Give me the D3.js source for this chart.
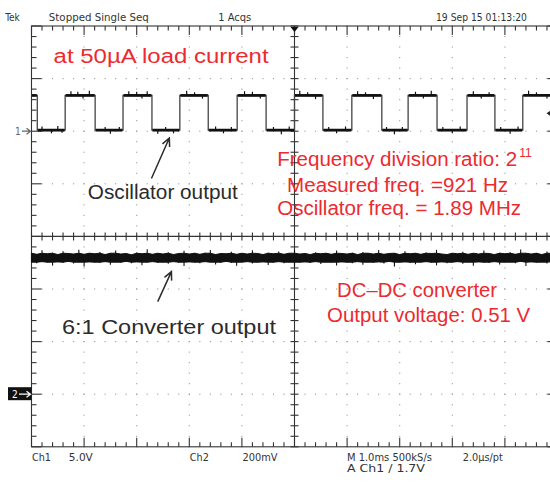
<!DOCTYPE html>
<html>
<head>
<meta charset="utf-8">
<script src="https://cdn.jsdelivr.net/npm/d3@7/dist/d3.min.js"></script>
<style>
    body { margin: 0; background: #fff; }
    svg { display: block; }
    .lab { font-family: "Liberation Sans Narrow", "DejaVu Sans Condensed", "Liberation Sans", sans-serif; font-size: 10px; fill: #333; }
    .red { font-family: "Liberation Sans", Arial, sans-serif; font-size: 20px; fill: #ec2a2f; }
    .blk { font-family: "Liberation Sans", Arial, sans-serif; font-size: 20px; fill: #2b2b2b; }
</style>
</head>
<body>
<script>

// Ch1: oscillator output, 5 V/div, edge times in ms (trace starts high)
var ch1Edges = [-4.89, -4.36, -3.79, -3.26, -2.71, -2.18, -1.64, -1.09, -0.54, 0.0,
                0.54, 1.09, 1.66, 2.16, 2.71, 3.28, 3.81, 4.34];
var ch1High = 3.4, ch1Low = 0.1;
// small glitches riding on the flat parts: [ms, volts]
var ch1Spikes = [[-4.8,0.35],[-4.62,-0.3],[-4.5,0.4],[-4.42,-0.25],[-4.25,0.4],[-4.12,0.35],[-4.02,-0.3],[-3.9,0.45],
                 [-3.6,0.3],[-3.5,-0.35],[-3.33,0.3],[-3.15,0.4],[-3.0,0.35],[-2.9,-0.3],[-2.8,0.4],[-2.6,-0.35],
                 [-2.45,0.3],[-2.3,-0.3],[-2.05,0.45],[-1.9,0.3],[-1.75,-0.3],[-1.5,0.35],[-1.35,-0.3],[-1.2,0.3],
                 [-0.95,0.4],[-0.8,0.35],[-0.65,-0.3],[-0.4,0.3],[-0.25,-0.4],[-0.1,0.35],[0.1,0.45],[0.25,0.3],
                 [0.4,-0.35],[0.65,0.3],[0.8,-0.3],[0.97,0.35],[1.2,0.4],[1.35,0.3],[1.5,-0.35],[1.75,0.3],
                 [1.9,-0.4],[2.05,0.3],[2.3,0.35],[2.45,-0.3],[2.6,0.45],[2.82,0.3],[3.0,-0.3],[3.15,0.35],
                 [3.4,0.4],[3.55,-0.3],[3.7,0.3],[3.92,0.3],[4.1,-0.35],[4.25,0.35],[4.45,0.45],[4.6,0.3],
                 [4.8,-0.3],[4.92,0.4]];

// Ch2: converter output, 200 mV/div, peak envelope in mV, one column every 0.1 ms from -5 ms
var ch2Step = 0.1;
var ch2Hi = [536,532,547,534,538,531,544,535,533,549,532,537,534,541,531,536,546,533,535,530,
             539,534,551,532,536,533,540,531,535,545,533,537,532,538,548,531,535,534,542,532,
             536,533,547,535,531,538,534,543,532,536,550,533,535,531,539,534,537,532,546,535,
             533,538,531,541,536,533,548,532,535,537,531,544,534,536,532,539,535,549,533,531,
             537,534,542,532,536,533,546,535,531,538,534,540,532,550,536,533,537,531,543,535,534];
var ch2Lo = [502,498,504,501,489,503,500,505,497,502,486,503,501,499,504,492,502,500,505,498,
             503,490,501,504,499,502,496,504,500,487,503,501,498,504,502,493,500,505,499,488,
             502,504,497,501,503,491,500,504,498,502,485,501,503,499,504,495,502,500,489,503,
             501,498,504,492,502,500,503,497,505,486,501,503,499,494,502,504,500,490,503,498,
             501,504,496,502,488,503,500,499,504,493,501,502,498,505,487,503,500,502,497,504,501];
// solid core of the band (mV); excursions beyond it show as thin spikes
var ch2CoreHi = 536, ch2CoreLo = 502;

var trigLevel = 1.7;

var topLabels = [
    {text: "Tek", ms: -5.5, len: 0},
    {text: "Stopped  Single Seq", ms: -4.67, len: 100},
    {text: "1 Acqs", ms: -1.45, len: 33},
    {text: "19 Sep 15 01:13:20", ms: 2.69, len: 91}
];
var bottomLabels = [
    {text: "Ch1", ms: -4.99, row: 0, len: 19},
    {text: "5.0V", ms: -4.29, row: 0, len: 24},
    {text: "Ch2", ms: -1.99, row: 0, len: 19},
    {text: "200mV", ms: -0.99, row: 0, len: 35},
    {text: "M 1.0ms 500kS/s", ms: 0.997, row: 0, len: 85},
    {text: "2.0\u00b5s/pt", ms: 3.2, row: 0, len: 40},
    {text: "A  Ch1  /  1.7V", ms: 0.997, row: 1, len: 78}
];

// annotations in screen divisions (ms, div from centre)
var redNotes = [
    {text: "at 50\u00b5A load current", ms: -4.58, div: 3.29, len: 215},
    {text: "Frequency division ratio: 2", ms: -0.33, div: 1.34, len: 240},
    {text: "Measured freq. =921 Hz", ms: -0.14, div: 0.84, len: 221},
    {text: "Oscillator freq. = 1.89 MHz", ms: -0.33, div: 0.40, len: 244},
    {text: "DC\u2013DC converter", ms: 0.81, div: -1.15, len: 160},
    {text: "Output voltage: 0.51 V", ms: 0.62, div: -1.63, len: 203}
];
var blackNotes = [
    {text: "Oscillator output", ms: -3.93, div: 0.71, len: 150},
    {text: "6:1 Converter output", ms: -4.42, div: -1.86, len: 214}
];
var arrows = [
    {from: [-2.72, 1.10], to: [-2.38, 1.87]},
    {from: [-2.60, -1.24], to: [-2.34, -0.67]}
];

var width = 550, height = 485;
var frameLeft = 31.5, frameTop = 26, div = 52.6;

var x = d3.scaleLinear().domain([-5, 5]).range([frameLeft, frameLeft + 10 * div]);
var y = d3.scaleLinear().domain([-4, 4]).range([frameTop + 8 * div, frameTop]);
// channel scales: ch1 ground 2 div above centre, ch2 ground 3 div below
var y1 = d3.scaleLinear().domain([-30, 10]).range(y.range());
var y2 = d3.scaleLinear().domain([-0.2, 1.4]).range(y.range());

var svg = d3.select("body").append("svg")
    .attr("width", width)
    .attr("height", height);

var minorX = d3.range(51).map(function(i) { return -5 + i / 5; });
var minorY = d3.range(41).map(function(i) { return -4 + i / 5; });
var majorX = d3.range(-4, 5), majorY = d3.range(-3, 4);

// dotted graticule
var grid = svg.append("g").attr("fill", "#999");
majorX.filter(function(d) { return d !== 0; }).forEach(function(t) {
    grid.selectAll(null).data(minorY).enter().append("rect")
        .attr("x", x(t) - 0.55).attr("y", function(d) { return y(d) - 0.55; })
        .attr("width", 1.1).attr("height", 1.1);
});
majorY.filter(function(d) { return d !== 0; }).forEach(function(v) {
    grid.selectAll(null).data(minorX).enter().append("rect")
        .attr("x", function(d) { return x(d) - 0.55; }).attr("y", y(v) - 0.55)
        .attr("width", 1.1).attr("height", 1.1);
});

// frame and centre cross with ticks
var frame = svg.append("g").attr("stroke", "#333").attr("stroke-width", 1.1).attr("fill", "none");
frame.append("rect")
    .attr("x", x(-5)).attr("y", y(4))
    .attr("width", x(5) - x(-5)).attr("height", y(-4) - y(4));
frame.append("line").attr("x1", x(0)).attr("x2", x(0)).attr("y1", y(4)).attr("y2", y(-4));
frame.append("line").attr("x1", x(-5)).attr("x2", x(5)).attr("y1", y(0)).attr("y2", y(0));

function isMajor(d) { return Math.abs(d - Math.round(d)) < 1e-6; }

minorX.forEach(function(t) {
    var len = isMajor(t) ? 9 : 4.5;
    frame.append("line").attr("x1", x(t)).attr("x2", x(t)).attr("y1", y(4)).attr("y2", y(4) + len);
    frame.append("line").attr("x1", x(t)).attr("x2", x(t)).attr("y1", y(-4)).attr("y2", y(-4) - len);
    frame.append("line").attr("x1", x(t)).attr("x2", x(t)).attr("y1", y(0) - 4).attr("y2", y(0) + 4);
});
minorY.forEach(function(v) {
    var len = isMajor(v) ? 10 : 5;
    frame.append("line").attr("y1", y(v)).attr("y2", y(v)).attr("x1", x(-5)).attr("x2", x(-5) + len);
    frame.append("line").attr("y1", y(v)).attr("y2", y(v)).attr("x1", x(5)).attr("x2", x(5) - len);
    frame.append("line").attr("y1", y(v)).attr("y2", y(v)).attr("x1", x(0) - 4).attr("x2", x(0) + 4);
});

// trigger position and trigger level markers
svg.append("path")
    .attr("d", "M" + (x(0) - 4) + "," + (y(4) + 1) + "h8l-4,5z")
    .attr("fill", "#111");
svg.append("path")
    .attr("d", "M" + (x(5) - 11) + "," + y1(trigLevel) + "l6,-4v8z")
    .attr("fill", "#222");

// channel ground markers
svg.append("text").attr("class", "lab")
    .attr("x", 15).attr("y", y1(0) + 4).style("fill", "#666").text("1");
svg.append("path")
    .attr("d", "M22," + y1(0) + "H" + (x(-5) - 1) + "M" + (x(-5) - 5) + "," + (y1(0) - 3) + "l4,3l-4,3")
    .attr("stroke", "#666").attr("fill", "none").attr("stroke-width", 1.2);
svg.append("rect")
    .attr("x", 8).attr("y", y2(0) - 7).attr("width", x(-5) - 8).attr("height", 13)
    .attr("fill", "#111");
svg.append("text").attr("class", "lab")
    .attr("x", 12).attr("y", y2(0) + 4).style("fill", "#fff").text("2");
svg.append("path")
    .attr("d", "M19," + y2(0) + "H" + (x(-5) - 1) + "M" + (x(-5) - 5) + "," + (y2(0) - 3) + "l4,3l-4,3")
    .attr("stroke", "#fff").attr("fill", "none").attr("stroke-width", 1.2);

// Ch1 square wave: thin edges, heavier flats
var level = ch1High, pts = [[-5, level]], flats = [], start = -5;
ch1Edges.forEach(function(e) {
    pts.push([e, level]);
    flats.push({t0: start, t1: e, v: level});
    level = level === ch1High ? ch1Low : ch1High;
    pts.push([e, level]);
    start = e;
});
pts.push([5, level]);
flats.push({t0: start, t1: 5, v: level});

var line1 = d3.line()
    .x(function(d) { return x(d[0]); })
    .y(function(d) { return y1(d[1]); });

svg.append("path")
    .datum(pts)
    .attr("d", line1)
    .attr("fill", "none")
    .attr("stroke", "#444")
    .attr("stroke-width", 1.3);

svg.append("g").attr("stroke", "#111").attr("stroke-width", 2.8)
    .selectAll("line").data(flats).enter().append("line")
    .attr("x1", function(d) { return x(d.t0) + 0.5; })
    .attr("x2", function(d) { return x(d.t1) - 0.5; })
    .attr("y1", function(d) { return y1(d.v); })
    .attr("y2", function(d) { return y1(d.v); });

function levelAt(t) {
    var n = ch1Edges.filter(function(e) { return e < t; }).length;
    return n % 2 === 0 ? ch1High : ch1Low;
}
svg.append("g").attr("stroke", "#111").attr("stroke-width", 1.2)
    .selectAll("line").data(ch1Spikes).enter().append("line")
    .attr("x1", function(d) { return x(d[0]); })
    .attr("x2", function(d) { return x(d[0]); })
    .attr("y1", function(d) { return y1(levelAt(d[0])); })
    .attr("y2", function(d) { return y1(levelAt(d[0]) + d[1]); });

// Ch2 noisy DC band
var band = ch2Hi.map(function(h, i) { return {t: -5 + i * ch2Step, hi: h / 1000, lo: ch2Lo[i] / 1000}; });
svg.append("path")
    .datum(band)
    .attr("d", d3.area()
        .x(function(d) { return x(d.t); })
        .y0(function(d) { return y2(Math.max(d.lo, ch2CoreLo / 1000)); })
        .y1(function(d) { return y2(Math.min(d.hi, ch2CoreHi / 1000)); }))
    .attr("fill", "#111")
    .attr("stroke", "#111")
    .attr("stroke-width", 1);
svg.append("g").attr("stroke", "#111").attr("stroke-width", 1.1)
    .selectAll("line").data(band).enter().append("line")
    .attr("x1", function(d) { return x(d.t); })
    .attr("x2", function(d) { return x(d.t); })
    .attr("y1", function(d) { return y2(d.lo); })
    .attr("y2", function(d) { return y2(d.hi); });

// scope readouts
svg.append("g").selectAll("text").data(topLabels).enter().append("text")
    .attr("class", "lab")
    .attr("x", function(d) { return x(d.ms); })
    .attr("y", 21)
    .each(function(d) { if (d.len) d3.select(this).attr("textLength", d.len).attr("lengthAdjust", "spacingAndGlyphs"); })
    .text(function(d) { return d.text; });

svg.append("g").selectAll("text").data(bottomLabels).enter().append("text")
    .attr("class", "lab")
    .attr("x", function(d) { return x(d.ms); })
    .attr("y", function(d) { return y(-4) + 14.5 + d.row * 11; })
    .attr("textLength", function(d) { return d.len; })
    .attr("lengthAdjust", "spacingAndGlyphs")
    .text(function(d) { return d.text; });

// annotations
svg.append("g").selectAll("text").data(redNotes).enter().append("text")
    .attr("class", "red")
    .attr("x", function(d) { return x(d.ms); })
    .attr("y", function(d) { return y(d.div); })
    .attr("textLength", function(d) { return d.len; })
    .attr("lengthAdjust", "spacingAndGlyphs")
    .text(function(d) { return d.text; });

var sup = redNotes[1];
svg.append("text").attr("class", "red")
    .style("font-size", "12px")
    .attr("x", x(sup.ms) + sup.len + 2)
    .attr("y", y(sup.div) - 9)
    .text("11");

svg.append("g").selectAll("text").data(blackNotes).enter().append("text")
    .attr("class", "blk")
    .attr("x", function(d) { return x(d.ms); })
    .attr("y", function(d) { return y(d.div); })
    .attr("textLength", function(d) { return d.len; })
    .attr("lengthAdjust", "spacingAndGlyphs")
    .text(function(d) { return d.text; });

arrows.forEach(function(a) {
    var x0 = x(a.from[0]), y0 = y(a.from[1]), xa = x(a.to[0]), ya = y(a.to[1]);
    var ang = Math.atan2(ya - y0, xa - x0), h = 9, s = 0.45;
    var p = "M" + x0 + "," + y0 + "L" + xa + "," + ya +
        "M" + (xa - h * Math.cos(ang - s)) + "," + (ya - h * Math.sin(ang - s)) +
        "L" + xa + "," + ya +
        "L" + (xa - h * Math.cos(ang + s)) + "," + (ya - h * Math.sin(ang + s));
    svg.append("path").attr("d", p)
        .attr("fill", "none").attr("stroke", "#2b2b2b").attr("stroke-width", 1.5);
});

</script>
</body>
</html>
